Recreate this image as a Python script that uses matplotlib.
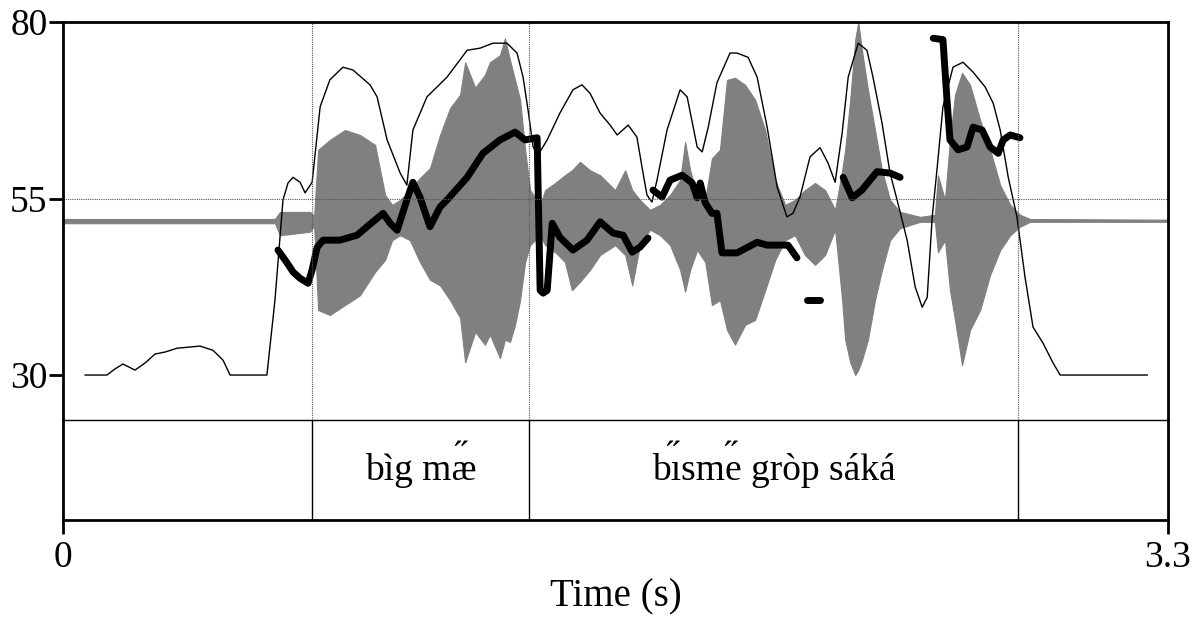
import numpy as np
import matplotlib
matplotlib.use("Agg")
import matplotlib.pyplot as plt
from matplotlib.font_manager import FontProperties

plt.rcParams['font.family'] = ['Liberation Serif', 'DejaVu Serif']

# intensity contour (s, dB)
int_t = [0.066, 0.131, 0.155, 0.179, 0.197, 0.215, 0.245, 0.275, 0.305, 0.341, 0.409, 0.448,
         0.478, 0.499, 0.609, 0.633, 0.657, 0.672, 0.687, 0.708, 0.723, 0.744, 0.768, 0.797,
         0.836, 0.866, 0.917, 0.938, 0.968, 1.007, 1.027, 1.045, 1.087, 1.147, 1.207, 1.246,
         1.284, 1.326, 1.356, 1.374, 1.389, 1.404, 1.419, 1.446, 1.484, 1.523, 1.550, 1.574,
         1.604, 1.634, 1.655, 1.688, 1.714, 1.729, 1.744, 1.759, 1.774, 1.804, 1.843, 1.864,
         1.894, 1.909, 1.927, 1.953, 1.992, 2.013, 2.046, 2.073, 2.103, 2.133, 2.162, 2.180,
         2.201, 2.231, 2.261, 2.285, 2.306, 2.327, 2.345, 2.375, 2.401, 2.419, 2.446, 2.470,
         2.491, 2.521, 2.545, 2.566, 2.581, 2.596, 2.611, 2.628, 2.658, 2.688, 2.718, 2.754,
         2.778, 2.799, 2.823, 2.849, 2.873, 2.897, 2.927, 2.957, 2.978, 3.238]
int_db = [30.0, 30.0, 30.85, 31.56, 31.13, 30.7, 31.7, 32.97, 33.26, 33.8, 34.1, 33.5,
          32.1, 30.0, 30.0, 40.6, 54.8, 57.2, 58.0, 57.3, 55.8, 57.3, 68.0, 71.8,
          73.6, 73.2, 71.1, 69.4, 63.3, 58.6, 56.9, 64.7, 69.4, 72.2, 76.0, 76.3,
          77.0, 77.0, 75.6, 72.2, 67.5, 62.3, 61.2, 63.3, 67.1, 70.4, 71.1, 69.9,
          67.1, 65.4, 64.0, 65.4, 63.7, 59.5, 55.5, 54.5, 57.6, 64.7, 70.4, 69.4,
          62.3, 61.6, 65.1, 71.4, 75.6, 75.6, 75.0, 72.2, 65.1, 56.6, 52.4, 52.9,
          55.2, 60.9, 62.2, 60.0, 57.3, 64.3, 72.2, 77.0, 76.0, 72.2, 65.7, 58.6,
          54.8, 49.1, 42.5, 39.6, 41.0, 52.4, 59.5, 68.0, 73.6, 74.3, 72.9, 70.8,
          68.5, 64.7, 58.0, 52.4, 43.9, 36.8, 34.5, 31.7, 30.0, 30.0]

# pitch contour, drawn in separate voiced stretches
pitch_segments = [
    ([0.642, 0.669, 0.687, 0.708, 0.732, 0.744, 0.759, 0.777, 0.827, 0.878, 0.908, 0.956,
      0.977, 0.998, 1.027, 1.045, 1.066, 1.096, 1.126, 1.147, 1.207, 1.254, 1.305, 1.350,
      1.380, 1.416, 1.425, 1.434, 1.446, 1.461, 1.484, 1.523, 1.565, 1.604, 1.643, 1.673,
      1.700, 1.723, 1.747],
     [47.7, 45.9, 44.6, 43.7, 43.0, 44.9, 48.1, 49.1, 49.1, 49.8, 51.0, 52.9,
      51.5, 50.5, 54.8, 57.3, 55.2, 51.0, 53.8, 54.8, 58.0, 61.4, 63.3, 64.4,
      63.3, 63.6, 42.0, 41.6, 42.0, 51.5, 49.5, 47.7, 49.1, 51.7, 50.1, 49.8,
      47.4, 48.1, 49.4]),
    ([1.762, 1.789, 1.813, 1.849, 1.879, 1.894, 1.903, 1.918, 1.938, 1.953, 1.968, 2.013,
      2.073, 2.103, 2.165, 2.192],
     [56.2, 55.2, 57.6, 58.3, 57.2, 55.1, 57.2, 54.4, 52.9, 52.9, 47.3, 47.3,
      48.8, 48.4, 48.4, 46.6]),
    ([2.222, 2.261], [40.6, 40.6]),
    ([2.330, 2.357, 2.386, 2.431, 2.470, 2.500],
     [58.0, 55.1, 56.2, 58.8, 58.6, 58.0]),
    ([2.599, 2.628, 2.640, 2.649, 2.673, 2.700, 2.718, 2.745, 2.769, 2.793, 2.808, 2.829,
      2.858],
     [77.7, 77.5, 69.0, 63.3, 61.9, 62.3, 65.1, 64.7, 62.3, 61.4, 63.3, 64.0,
      63.6]),
]

# waveform envelope (upper / lower edge, in the dB frame)
wave_t = [0.0, 0.633, 0.648, 0.738, 0.750, 0.762, 0.797, 0.842, 0.887, 0.932, 0.962, 0.983,
          1.007, 1.036, 1.066, 1.096, 1.126, 1.156, 1.186, 1.201, 1.231, 1.260, 1.275, 1.305,
          1.320, 1.335, 1.350, 1.365, 1.380, 1.395, 1.425, 1.440, 1.470, 1.499, 1.520, 1.544,
          1.574, 1.604, 1.649, 1.679, 1.700, 1.723, 1.753, 1.783, 1.813, 1.843, 1.858, 1.873,
          1.894, 1.918, 1.938, 1.962, 1.983, 2.007, 2.037, 2.067, 2.097, 2.127, 2.157, 2.186,
          2.216, 2.246, 2.276, 2.306, 2.327, 2.336, 2.351, 2.366, 2.375, 2.386, 2.404, 2.425,
          2.446, 2.470, 2.500, 2.560, 2.604, 2.613, 2.634, 2.649, 2.664, 2.685, 2.709, 2.739,
          2.769, 2.799, 2.829, 2.858, 2.888, 3.300]
wave_hi = [52.1, 52.1, 53.1, 53.1, 52.5, 61.9, 63.3, 64.7, 64.0, 62.6, 55.5, 54.1,
           54.8, 56.2, 57.9, 59.3, 64.0, 67.8, 69.7, 74.3, 70.7, 72.5, 74.3, 75.3,
           77.7, 74.6, 71.8, 69.0, 61.9, 56.2, 54.1, 56.2, 57.2, 58.3, 59.0, 60.2,
           59.0, 58.3, 56.2, 59.0, 56.2, 54.8, 53.4, 54.1, 55.5, 57.6, 63.0, 59.0,
           55.5, 54.8, 60.7, 61.9, 71.8, 72.1, 71.1, 69.0, 64.7, 57.6, 54.1, 54.8,
           56.2, 57.2, 56.2, 53.4, 59.0, 61.9, 69.0, 77.5, 80.0, 76.0, 70.4, 64.7,
           59.0, 54.8, 53.1, 52.4, 52.7, 58.3, 54.8, 63.3, 69.7, 72.8, 71.1, 66.1,
           61.9, 56.9, 54.1, 52.7, 52.1, 52.0]
wave_lo = [51.5, 51.5, 49.8, 50.3, 51.2, 39.2, 38.5, 39.9, 41.3, 44.6, 46.3, 49.1,
           49.8, 49.1, 46.0, 43.5, 42.7, 40.6, 38.1, 31.8, 36.1, 34.3, 35.7, 32.4,
           35.0, 34.7, 37.1, 40.6, 46.0, 48.4, 49.8, 48.4, 47.4, 46.0, 42.0, 43.2,
           44.9, 47.0, 48.4, 47.0, 42.7, 48.4, 50.6, 49.8, 48.4, 44.9, 41.8, 44.9,
           47.7, 46.0, 39.9, 40.6, 36.4, 34.3, 37.1, 37.8, 42.0, 46.3, 49.1, 49.8,
           47.0, 45.6, 47.0, 50.6, 40.6, 35.0, 31.8, 30.0, 30.7, 32.1, 35.0, 40.6,
           44.9, 49.1, 50.8, 51.7, 51.7, 47.4, 49.1, 42.0, 37.8, 31.4, 36.4, 39.2,
           44.2, 47.7, 49.8, 51.0, 51.7, 51.7]

boundaries = [0.744, 1.392, 2.852]
# tier labels: base text plus the positions of letters carrying a double acute
tier_labels = ["", "b\u00ecg m\u00e6", "b\u0131sme gr\u00f2p s\u00e1k\u00e1", ""]
double_acute_at = [[], [5], [1, 4], []]
t_max = 3.3

fig = plt.figure(figsize=(12, 6.25), dpi=100)
ax = fig.add_axes([0.0525, 0.328, 0.9208, 0.6368])
tier = fig.add_axes([0.0525, 0.168, 0.9208, 0.16], sharex=ax)
tier.patch.set_visible(False)

ax.fill_between(wave_t, wave_lo, wave_hi, color='#808080', lw=0.8, edgecolor='#808080')
ax.plot(int_t, int_db, color='black', lw=1.0)
for st, sv in pitch_segments:
    ax.plot(st, sv, color='black', lw=5, solid_capstyle='round', solid_joinstyle='round')

ax.axhline(55, color='#555555', lw=0.8, ls=(0, (1, 1)))
for b in boundaries:
    ax.axvline(b, color='#555555', lw=0.8, ls=(0, (1, 1)))
    tier.axvline(b, color='black', lw=1.0)

ax.set_xlim(0, t_max)
ax.set_ylim(23.63, 80)
ax.set_yticks([30, 55, 80])
ax.tick_params(axis='y', direction='out', length=10, width=2, labelsize=27, pad=1)
ax.tick_params(axis='x', bottom=False, labelbottom=False)
for side in ['left', 'top', 'right']:
    ax.spines[side].set_linewidth(2)
ax.spines['bottom'].set_linewidth(1.0)
ax.spines['bottom'].set_color('black')

# tier text, with double acute marks placed over the right letters
fs = 27
fp = FontProperties(family=['Liberation Serif'], size=fs)
renderer = fig.canvas.get_renderer()
edges = [0.0] + boundaries + [t_max]


def text_width(s):
    w, h, d = renderer.get_text_width_height_descent(s, fp, ismath=False)
    return w


for i, lab in enumerate(tier_labels):
    if not lab:
        continue
    xc = (edges[i] + edges[i + 1]) / 2
    tier.text(xc, 0.5, lab, ha='center', va='center', fontproperties=fp)
    total = text_width(lab)
    x0_disp = tier.transData.transform((xc, 0.5))[0] - total / 2
    for k in double_acute_at[i]:
        mid = x0_disp + (text_width(lab[:k]) + text_width(lab[:k + 1])) / 2 - 3
        xm = tier.transData.inverted().transform((mid, 0))[0]
        tier.text(xm, 0.62, "\u02dd", ha='center', va='center', fontproperties=fp)

tier.set_ylim(0, 1)
tier.set_yticks([])
tier.set_xticks([0, t_max])
tier.set_xticklabels(['0', '3.3'])
tier.tick_params(axis='x', direction='out', length=10, width=2, labelsize=27, pad=5)
tier.spines['top'].set_visible(False)
for side in ['left', 'bottom', 'right']:
    tier.spines[side].set_linewidth(2)
tier.set_xlabel('Time (s)', fontsize=28, labelpad=2)

fig.savefig('out.png', dpi=100)
